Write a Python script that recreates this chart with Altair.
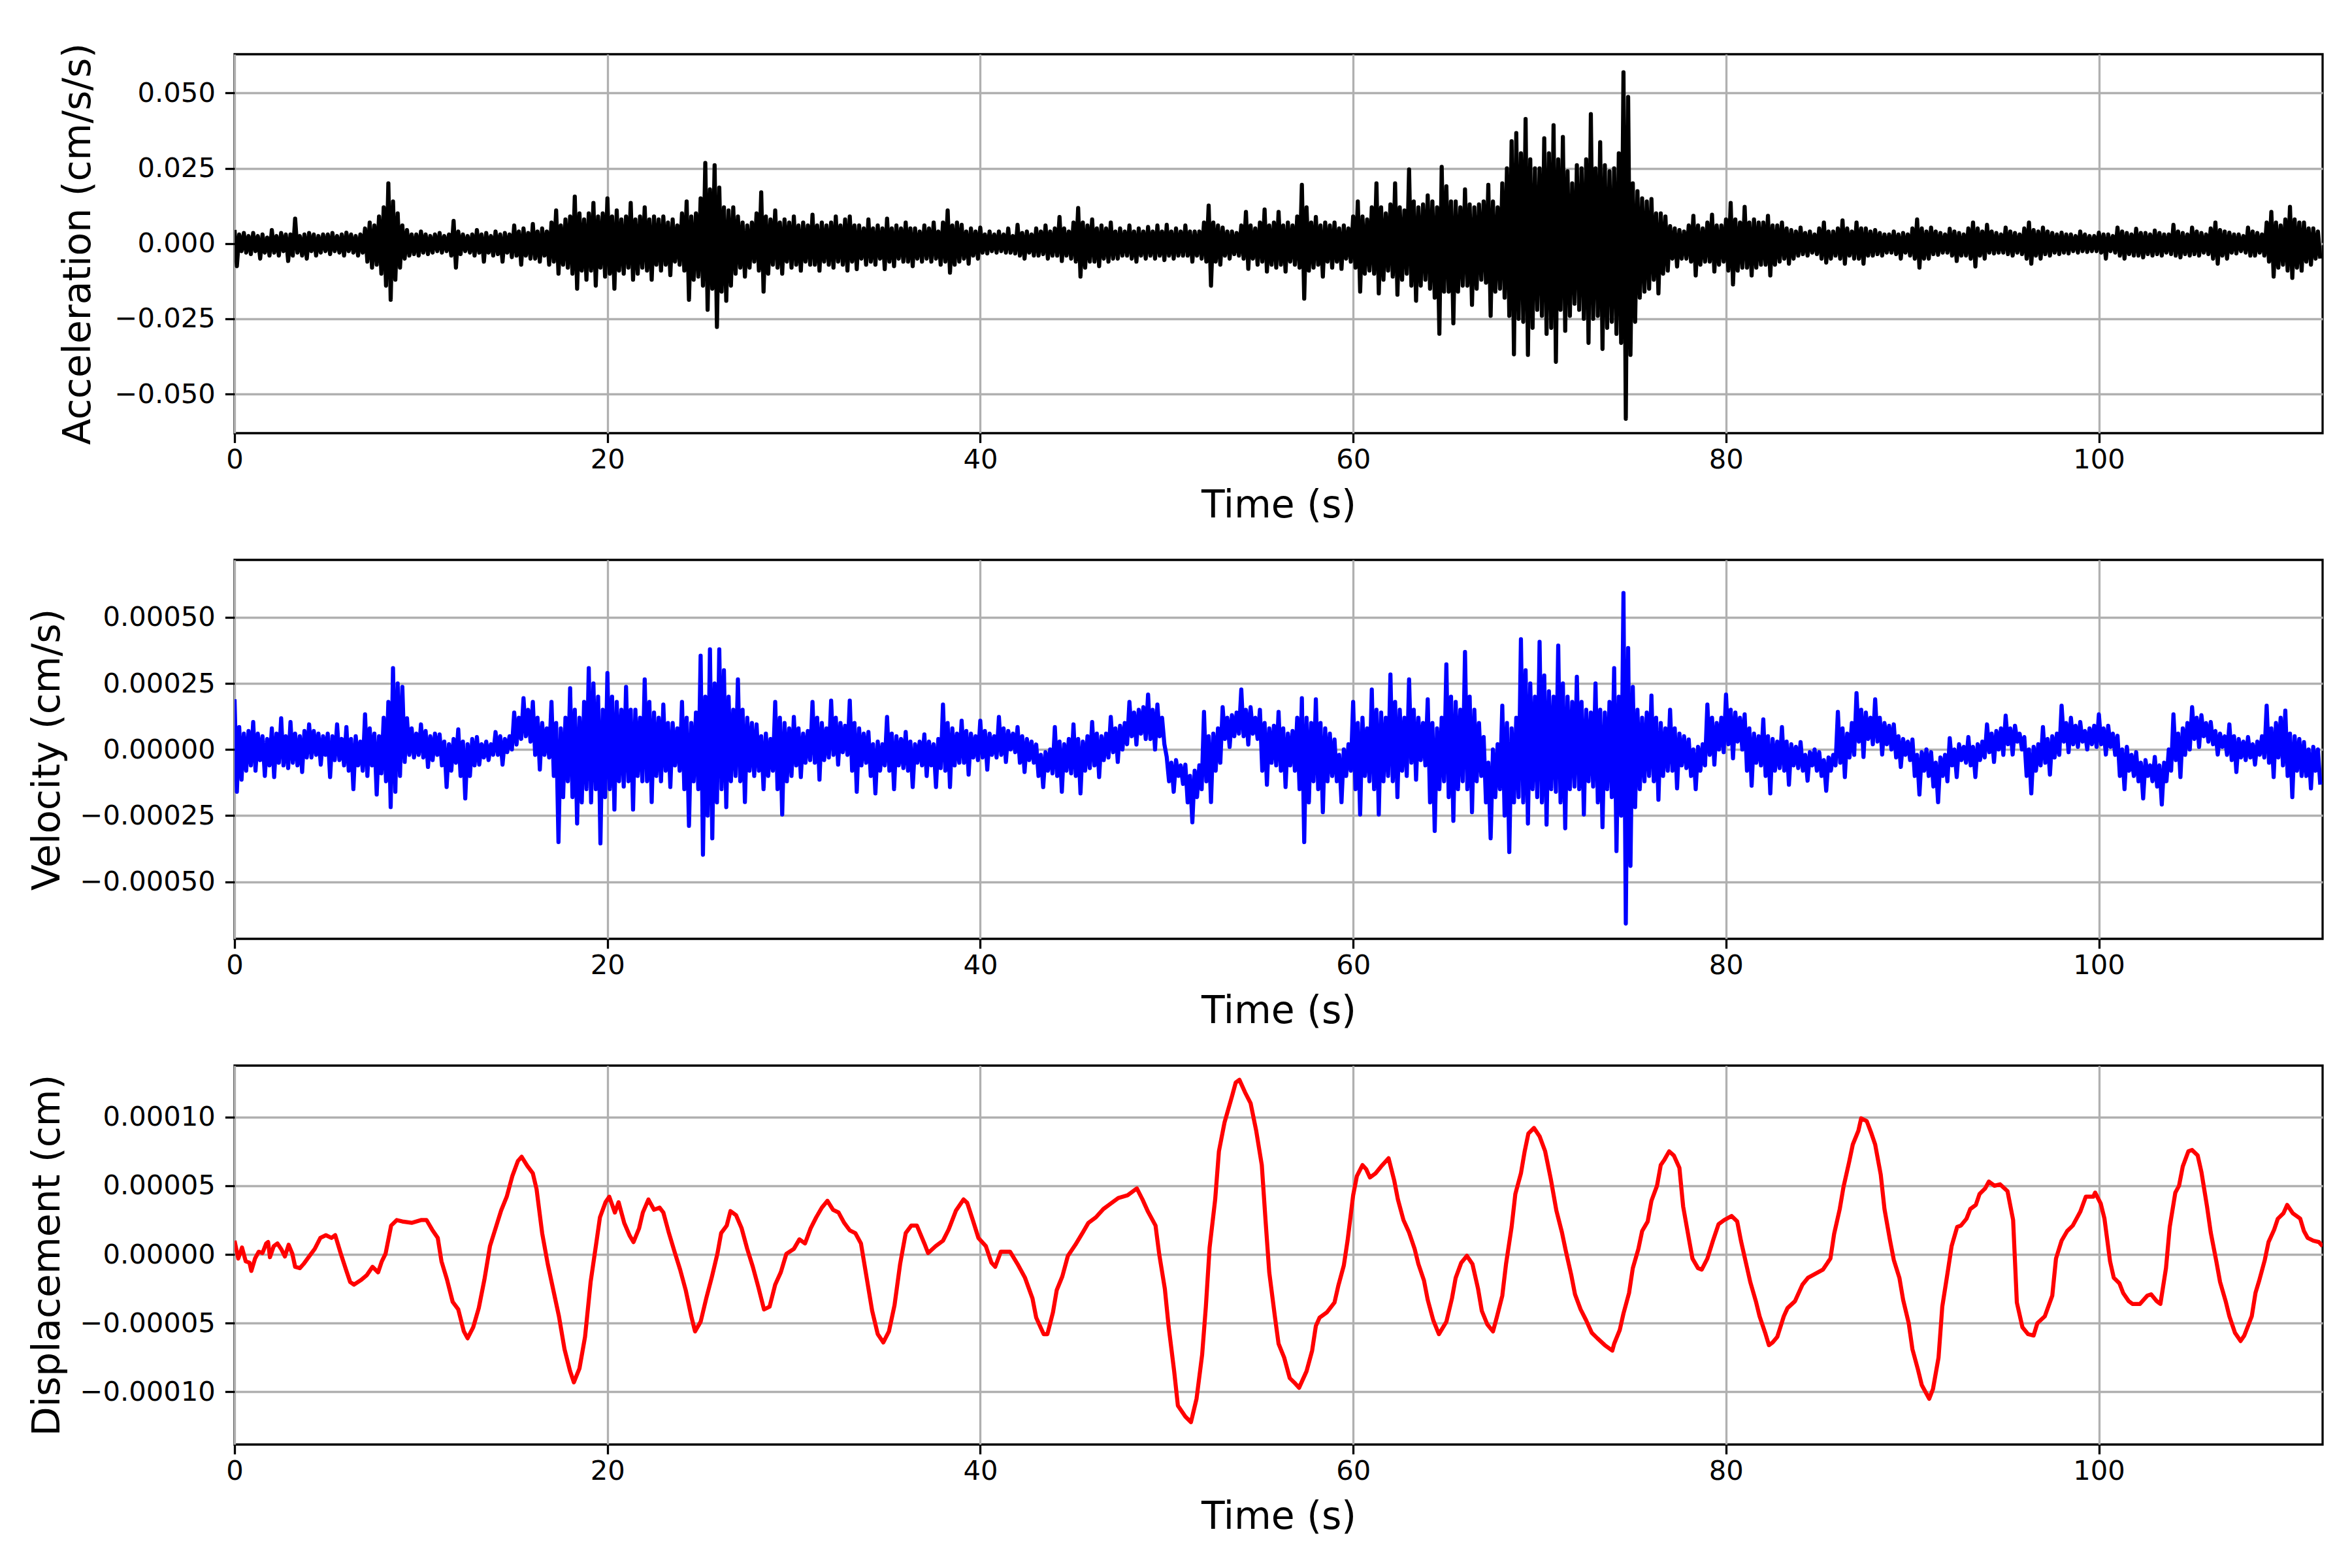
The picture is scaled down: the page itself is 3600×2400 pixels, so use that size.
import altair as alt
import pandas as pd

# ---------------- data ----------------
# Acceleration, units of 0.001 cm/s/s; one row per second, 8 samples per row (every 0.125 s)
ACC_ROWS = [
    [4.5, -7.5, 3, -2.5, 3.5, -3, 2.5, -3.5], [3.5, -2.5, 2.5, -5, 3, -3, 2, -4],
    [4.5, -3, 2.5, -4, 3.5, -2.5, 3, -5.8], [3, -4, 8.3, -3, 2.5, -4, 3, -5],
    [3.5, -2.5, 3, -4, 2.5, -3, 3, -2.5], [3, -3.5, 3.5, -2.5, 2.5, -3, 3, -4],
    [3.6, -2.5, 3, -3, 2.5, -4, 3, -3], [5, -6, 7, -8, 6, -7, 9, -10],
    [12, -14, 20, -18.7, 14, -12, 10, -8], [6, -5, 4.5, -4, 3, -3.5, 3, -4],
    [4, -3, 3, -3.5, 2.5, -3, 3, -2.5], [3.5, -3, 2.5, -2.5, 3, -4, 7.5, -8],
    [4, -3.5, 3, -2.5, 2.5, -3, 3, -4], [4.5, -3, 3, -6, 3.5, -3, 2.5, -4],
    [4, -3.5, 3, -6, 3.5, -3, 3, -4.5], [6, -4, 4, -7, 5, -4, 3.5, -5],
    [6.5, -5, 4, -6, 5, -4, 4, -7], [7, -6, 11, -10, 6, -7, 8, -8],
    [9, -10, 15.6, -15, 10, -9, 8, -12], [10, -9, 13.5, -14, 9, -8, 10, -11],
    [15, -10, 9, -15, 11, -9, 8, -10], [9, -8, 13.5, -12, 8, -10, 9, -8],
    [12, -9, 8, -12, 9, -7, 8, -9], [9, -7, 7, -10.5, 8, -6, 6, -7],
    [10, -9, 14, -18.7, 9, -12, 10, -11], [15, -14, 26.8, -22, 18, -15, 26, -27.7],
    [18.6, -16, 12, -19, 11, -14, 12, -10], [9, -8, 7, -11, 6, -8, 7, -6],
    [10, -9, 17, -16, 9, -10, 8, -7], [11, -8, 7, -10, 8, -6, 7, -8],
    [9, -7, 6, -9, 7, -6, 6, -7], [9.6, -7, 6, -9, 7, -6, 6, -7],
    [7, -8, 9, -6, 6, -7, 8, -9], [9, -6, 6, -8.5, 6, -5, 5, -7],
    [8, -6, 5, -7, 6, -5, 5, -8.5], [8.3, -6, 5, -7.5, 6, -5, 5, -6],
    [7, -6, 5, -7.5, 5, -5, 4, -6], [6, -5, 5, -6, 7, -5, 4, -7],
    [7, -6, 11, -9.7, 6, -7, 7, -6], [6.2, -5, 4, -6.7, 5, -4, 4, -5],
    [5.3, -3, 3, -3.3, 4, -2.5, 3, -3], [4, -2.5, 3, -3, 5, -3, 2.5, -3.3],
    [6.2, -4, 3.5, -5, 4, -3, 3, -4], [5, -4, 4, -3.5, 6, -5, 4, -4],
    [5, -4, 8.8, -5.8, 5, -4, 4, -5], [7, -6, 11.8, -11, 7, -8, 6, -6],
    [8, -6, 5, -7.5, 6, -5, 5, -6], [7, -5, 4, -5, 5, -4, 4, -4],
    [6, -5, 4, -6, 5, -4, 4, -5], [5.5, -4, 4, -5, 6, -4, 4, -5.5],
    [6.2, -4, 4, -5, 5, -4, 4, -4], [6, -4, 4, -6, 4, -4, 4, -5],
    [7, -6, 12.6, -14, 7, -6, 6, -7], [5.3, -4, 4, -5, 4, -3.5, 3.5, -4],
    [6, -5, 10.5, -8.4, 6, -5, 5, -7], [7, -6, 11.3, -9.3, 6, -7, 7, -8],
    [10.5, -7, 6, -9.3, 7, -6, 6, -7], [9, -8, 19.5, -18.3, 12, -9, 7, -8],
    [8.8, -7, 6, -11, 7, -6, 6, -8], [7, -6, 5, -8.4, 6, -5, 5, -6],
    [9, -8, 14, -16, 9, -10, 8, -9], [12, -10, 20, -16.6, 12, -12, 10, -9],
    [13, -11, 20, -17, 12, -12, 11, -10], [24.6, -14, 14, -19, 12, -14, 13, -12],
    [16, -15, 14, -18, 12, -30, 25.5, -16], [19, -16, 14, -26.5, 14, -16, 12, -14],
    [18, -14, 13, -20.4, 12, -15, 13, -12], [14, -13, 19.5, -24, 14, -16, 12, -15],
    [20, -18, 25, -24, 34, -36.8, 36.7, -25], [30, -26, 41.4, -37, 28, -28, 25, -22],
    [25, -24, 35, -30, 30, -28, 39.3, -39.3], [28, -22, 35.4, -29, 24, -24, 20, -20],
    [26, -22, 25, -25, 28, -33, 43, -25], [25, -24, 33.7, -35, 26, -28, 24, -26],
    [25, -30, 30, -33, 56.9, -58.2, 48.7, -37], [20, -26, 17.4, -18, 15, -16, 14, -15],
    [14.8, -12, 10, -16.6, 10, -10, 9, -9], [5.8, -5, 5, -7.6, 4.5, -5, 4, -5],
    [6, -6, 9.2, -10.6, 6, -7, 5, -6], [7, -6, 9.6, -9.3, 6, -7, 6, -6],
    [8, -9, 13.5, -13.6, 8, -9, 7, -8], [12.2, -8, 7, -10.6, 8, -8, 7, -7],
    [7, -7, 9.2, -10.6, 6, -7, 6, -6], [7, -5, 5, -6.7, 4.5, -5, 4, -4],
    [5.3, -3.5, 3.5, -4, 4, -3, 3, -3.5], [5, -5, 7, -6.3, 4, -5, 4, -4],
    [5, -5, 7.7, -6.7, 5, -4, 4, -5], [7, -5, 5, -6.7, 5, -4, 4, -4],
    [4.5, -3.5, 3.5, -4, 3, -3, 3, -3], [4, -3.5, 3, -5, 3.5, -3, 3, -4],
    [5, -5, 8, -8, 5, -5, 4, -5], [5.3, -3.5, 4, -3.7, 3.5, -3, 3, -3],
    [4.9, -4, 4, -5.8, 3.5, -4, 3, -4], [5, -5, 7, -7.6, 5, -4, 4, -5],
    [6.2, -3, 4, -3.3, 3.5, -3, 3, -3], [5.3, -3.5, 4, -4, 3.5, -3, 3, -3.5],
    [5, -5, 7, -6.7, 4.5, -4, 4, -5], [5.3, -3.5, 4, -4, 3.5, -3, 3, -3.5],
    [3.6, -3, 3, -3.3, 3, -2.5, 2.5, -3], [4, -2.5, 3, -2.8, 2.5, -2.5, 2.5, -2.5],
    [3.6, -3, 3, -5, 3, -2.5, 2.5, -3], [5.3, -4, 4, -5, 3.5, -3.5, 3, -4],
    [4.9, -4, 3.5, -4.6, 3.5, -3.5, 3, -4], [4.3, -3.5, 3.5, -4, 3, -3, 3, -3.5],
    [6.2, -4, 4, -4.6, 3.5, -3.5, 3, -4], [5.3, -3.5, 4, -4, 3.5, -3, 3, -3.5],
    [5, -5, 7, -6.7, 4.5, -4, 4, -5], [3.6, -3, 3, -3.3, 3, -2.5, 2.5, -3],
    [5.3, -4, 4, -4, 3.5, -3, 3, -4], [7, -6, 10.5, -11, 7, -8, 6, -7],
    [8, -9, 12.2, -11.4, 8, -8, 7, -9], [7, -6, 5, -7, 5, -5, 4, -5],
]

# Velocity, units of 1e-5 cm/s; one row per second, 8 samples per row (every 0.125 s)
VEL_ROWS = [
    [19, -16, 8.5, -11.4, 6, -8, 7, -6], [10.4, -8, 6, -4, 5, -10, 4, -6],
    [8, -10.4, 6, -5, 11.8, -6, 5, -7], [10.4, -5, 6, -6, 5, -8.5, 7, -3],
    [9.5, -3, 7, -2, 6, -5.7, 5, -2], [6, -10.4, 5, -4, 9.5, -4, 4, -6],
    [8.5, -8, 4, -15, 5, -6, 3, -8], [13.3, -10, 8, -6, 6, -17, 5, -9],
    [12, -12, 18, -21.8, 30.8, -16, 25, -10], [23.7, -4.7, 11.8, -2, 8, -3, 6, -2],
    [9.5, -3, 7, -6.6, 5, -4, 6, -2], [5.7, -6, 3, -14.2, 2, -8, 4, -5],
    [7.6, -10, 3, -18.5, 2, -10, 4, -6], [4.7, -5.7, 2, -3, 3, -4, 2, -2],
    [6.6, -2, 5, -5.7, 4, -1, 5, 0], [14, 1.9, 12, 4, 19.4, 5, 15, 3],
    [18, -2, 12, -7.6, 10, -2, 8, -3], [18, -10, 10, -35, 8, -18, 12, -12],
    [23.2, -18, 15, -28, 12, -20, 18, -15], [30.8, -20, 25, -15, 20, -35.5, 15, -18],
    [28.9, -15, 20, -22.7, 18, -12, 15, -14], [23.7, -12, 15, -22.7, 15, -10, 12, -12],
    [26.5, -12, 18, -19.9, 14, -10, 12, -12], [17, -8, 10, -14.2, 10, -6, 8, -8],
    [18, -15, 12, -28.9, 10, -12, 14, -15], [35.5, -39.8, 20, -25, 37.9, -33.6, 25, -20],
    [37.9, -15, 30, -21.8, 20, -12, 15, -10], [26.5, -12, 15, -19.9, 12, -8, 10, -10],
    [9.5, -8, 5, -15, 6, -10, 4, -8], [18, -15, 12, -24.6, 10, -12, 8, -10],
    [12.3, -6, 8, -10.4, 6, -5, 7, -4], [18, -5, 12, -11.4, 10, -4, 8, -3],
    [18.5, -2, 12, -5.7, 10, -1, 9, -2], [18.5, -8, 10, -16, 8, -6, 6, -5],
    [6.6, -10, 2, -16.6, 3, -8, 2, -6], [12.3, -8, 6, -15, 5, -6, 4, -7],
    [6.6, -8, 3, -14.2, 2, -5, 3, -6], [5.7, -10, 3, -6, 2, -14.2, 4, -7],
    [17, -8, 10, -14.2, 8, -6, 6, -5], [10.9, -5, 7, -9.5, 6, -3, 5, -4],
    [10.9, -3, 7, -7.6, 6, -2, 5, -3], [12.3, -2, 8, -4.7, 7, 0, 6, -1],
    [8.5, -5, 5, -8.5, 4, -4, 3, -5], [1.9, -10, -2, -14.2, -1, -8, 0, -9],
    [8.5, -10, 3, -16, 2, -8, 4, -9], [9.5, -10, 4, -16.6, 3, -8, 5, -7],
    [10.4, -6, 6, -10.4, 5, -4, 6, -3], [12.3, -1, 8, -4.7, 9, 0, 10, 2],
    [18, 5, 14, 1.9, 15, 6, 16, 4], [20.8, 4, 15, 0, 17, 5, 12, 2],
    [-2.8, -12, -5, -16, -4, -10, -6, -13], [-5.7, -20, -10, -27.5, -8, -18, -6, -15],
    [14.2, -12, 5, -19.9, 6, -8, 8, -5], [16, 4, 12, 1, 13, 5, 14, 6],
    [22.7, 5, 15, 1.9, 16, 6, 12, 4], [15, -8, 10, -13.3, 8, -5, 9, -6],
    [14.2, -8, 8, -14.2, 6, -6, 7, -8], [12, -15, 19.4, -35, 12, -20, 10, -12],
    [19, -15, 10, -23.7, 8, -12, 6, -10], [3.8, -12, -2, -19.9, 0, -10, 2, -8],
    [18, -15, 10, -24.6, 12, -10, 8, -12], [22.7, -15, 15, -24.6, 14, -12, 12, -10],
    [28.4, -12, 18, -18, 15, -8, 12, -10], [26.5, -5, 15, -11.4, 12, -4, 10, -6],
    [19, -20, 10, -30.8, 8, -15, 12, -12], [32.2, -18, 20, -27, 18, -15, 15, -12],
    [36.9, -15, 20, -23.7, 15, -12, 10, -10], [4.7, -20, -5, -33.6, 0, -18, 2, -15],
    [16.6, -25, 10, -38.8, 8, -20, 12, -18], [41.7, -20, 30, -28, 25, -15, 20, -18],
    [40.7, -20, 28, -28.4, 22, -15, 20, -16], [39.3, -20, 25, -29.8, 20, -15, 18, -14],
    [27.5, -15, 18, -24.6, 15, -12, 14, -14], [25, -20, 15, -29.4, 14, -15, 18, -18],
    [30.8, -38.4, 20, -25, 59.2, -65.8, 38.4, -44], [23.7, -21.8, 15, -15, 12, -12, 14, -10],
    [20.4, -12, 12, -19, 10, -10, 8, -8], [15, -8, 8, -14.7, 6, -6, 5, -7],
    [3.8, -10, 0, -15, 1, -8, 2, -6], [17, -2, 12, -5.7, 10, 0, 12, -1],
    [20.8, 2, 15, -3.3, 14, 3, 12, 0], [13.3, -8, 8, -13.7, 6, -5, 5, -6],
    [11.4, -10, 5, -16.6, 4, -8, 3, -7], [8.5, -8, 3, -13.3, 2, -6, 1, -7],
    [2.8, -8, -2, -11.8, -1, -6, 0, -8], [-1, -10, -4, -15.6, -3, -8, -2, -6],
    [14.2, -5, 8, -10.4, 6, -3, 10, -2], [21.3, 3, 15, -2.8, 14, 4, 12, 2],
    [19, 3, 12, -1.9, 10, 2, 9, 0], [9.5, -3, 5, -6.6, 4, -2, 3, -4],
    [3.8, -10, -2, -17, -1, -8, 0, -10], [-1, -14, -5, -19.9, -3, -10, -2, -12],
    [4.3, -6, 0, -10.4, 2, -4, 1, -5], [4.7, -6, 1, -10.4, 2, -4, 3, -3],
    [9.5, -1, 6, -4.7, 7, 0, 8, -2], [12.8, 2, 8, -1.9, 9, 3, 6, 0],
    [4.7, -10, 0, -16.6, 1, -8, 2, -6], [8.5, -5, 4, -9.5, 5, -3, 6, -2],
    [16.6, 3, 10, -1, 12, 2, 9, 1], [10.4, 3, 7, 0, 8, 2, 9, 1],
    [13.3, 2, 8, -1.9, 9, 1, 6, -2], [5.2, -10, 0, -15, 1, -8, -2, -10],
    [-1, -12, -5, -18.5, -4, -10, -6, -12], [-2.8, -14, -6, -20.8, -5, -12, 0, -8],
    [13.3, -4, 6, -10.4, 8, -2, 10, 0], [16, 4, 12, 1, 13, 5, 10, 3],
    [10.4, 2, 7, -1.9, 6, 1, 5, -2], [9.5, -4, 5, -8.5, 4, -3, 3, -4],
    [4.7, -3, 2, -5.7, 3, -2, 5, -3], [16.6, -5, 8, -10.4, 10, -3, 12, -6],
    [14.7, -10, 6, -18, 5, -8, 4, -10], [2.8, -10, 0, -14.7, 1, -8, 0, -13.3],
]

# Displacement: time (s) and value in units of 1e-5 cm
DISP_T = [
    0.0, 0.2, 0.4, 0.6, 0.8, 0.9, 1.1, 1.3, 1.5, 1.7, 1.8, 1.9, 2.1, 2.3, 2.5, 2.7, 2.9, 3.1, 3.25, 3.5,
    3.7, 4.0, 4.3, 4.6, 4.9, 5.2, 5.4, 5.7, 6.0, 6.2, 6.4, 6.8, 7.1, 7.4, 7.7, 7.9, 8.1, 8.4, 8.7, 9.0,
    9.5, 10.0, 10.3, 10.6, 10.9, 11.1, 11.4, 11.7, 12.0, 12.3, 12.5, 12.8, 13.1, 13.4, 13.7, 14.0, 14.3, 14.6, 14.9, 15.2,
    15.4, 15.7, 16.0, 16.2, 16.5, 16.8, 17.1, 17.4, 17.7, 18.0, 18.2, 18.5, 18.8, 19.1, 19.4, 19.6, 19.9, 20.1, 20.4, 20.6,
    20.9, 21.2, 21.4, 21.7, 21.9, 22.2, 22.5, 22.8, 23.0, 23.3, 23.6, 23.9, 24.2, 24.5, 24.7, 25.0, 25.3, 25.6, 25.9, 26.1,
    26.4, 26.6, 26.9, 27.2, 27.5, 27.8, 28.1, 28.4, 28.7, 29.0, 29.3, 29.6, 30.0, 30.3, 30.6, 30.9, 31.2, 31.5, 31.8, 32.1,
    32.4, 32.7, 33.0, 33.3, 33.6, 33.9, 34.2, 34.5, 34.8, 35.1, 35.4, 35.7, 36.0, 36.3, 36.6, 37.0, 37.2, 37.6, 38.0, 38.3,
    38.7, 39.1, 39.3, 39.6, 39.9, 40.3, 40.6, 40.8, 41.1, 41.4, 41.6, 42.0, 42.4, 42.8, 43.0, 43.4, 43.6, 43.9, 44.1, 44.4,
    44.7, 45.1, 45.5, 45.8, 46.2, 46.6, 46.9, 47.4, 47.9, 48.4, 48.7, 49.0, 49.4, 49.6, 49.9, 50.1, 50.4, 50.6, 51.0, 51.3,
    51.6, 51.9, 52.1, 52.3, 52.6, 52.8, 53.1, 53.5, 53.7, 53.9, 54.2, 54.5, 54.8, 55.1, 55.3, 55.5, 55.8, 56.0, 56.3, 56.6,
    56.9, 57.1, 57.5, 57.8, 58.0, 58.2, 58.6, 59.0, 59.2, 59.5, 59.7, 60.0, 60.2, 60.5, 60.7, 60.9, 61.2, 61.5, 61.9, 62.2,
    62.4, 62.7, 63.0, 63.3, 63.5, 63.8, 64.0, 64.3, 64.6, 65.0, 65.3, 65.5, 65.8, 66.1, 66.4, 66.7, 66.9, 67.2, 67.5, 67.7,
    68.0, 68.2, 68.5, 68.7, 69.0, 69.2, 69.4, 69.7, 70.0, 70.3, 70.6, 70.9, 71.2, 71.4, 71.7, 71.9, 72.2, 72.5, 72.8, 73.1,
    73.5, 73.9, 74.0, 74.3, 74.5, 74.8, 75.0, 75.3, 75.5, 75.8, 76.0, 76.3, 76.5, 76.7, 76.95, 77.2, 77.5, 77.7, 78.0, 78.2,
    78.5, 78.7, 79.0, 79.3, 79.6, 79.9, 80.3, 80.6, 80.8, 81.1, 81.3, 81.6, 81.8, 82.1, 82.3, 82.5, 82.75, 83.1, 83.3, 83.7,
    84.1, 84.4, 84.8, 85.2, 85.6, 85.8, 86.1, 86.3, 86.6, 86.8, 87.1, 87.25, 87.55, 87.8, 88.0, 88.3, 88.5, 88.8, 89.0, 89.3,
    89.5, 89.8, 90.0, 90.3, 90.5, 90.9, 91.1, 91.4, 91.6, 91.9, 92.1, 92.4, 92.6, 92.9, 93.1, 93.4, 93.6, 93.9, 94.1, 94.4,
    94.7, 95.1, 95.4, 95.6, 95.9, 96.2, 96.5, 96.7, 97.1, 97.5, 97.7, 98.0, 98.3, 98.6, 99.0, 99.3, 99.7, 99.8, 100.1, 100.3,
    100.6, 100.8, 101.1, 101.3, 101.6, 101.8, 102.2, 102.6, 102.8, 103.1, 103.3, 103.6, 103.8, 104.1, 104.3, 104.5, 104.8, 105.0, 105.3, 105.5,
    105.8, 106.0, 106.3, 106.5, 106.8, 107.0, 107.3, 107.6, 107.8, 108.2, 108.4, 108.6, 108.9, 109.1, 109.4, 109.6, 109.9, 110.1, 110.4, 110.8,
    111.0, 111.2, 111.5, 111.8, 112.0,
]
DISP_U = [
    1.0, -0.3, 0.5, -0.5, -0.6, -1.2, -0.3, 0.2, 0.1, 0.8, 0.9, -0.2, 0.6, 0.8, 0.4, -0.15, 0.7, 0.05, -0.9, -1.0,
    -0.7, -0.15, 0.4, 1.2, 1.4, 1.2, 1.4, 0.05, -1.2, -2.0, -2.2, -1.85, -1.5, -0.9, -1.3, -0.5, 0.05, 2.1, 2.5, 2.4,
    2.3, 2.5, 2.5, 1.8, 1.2, -0.5, -1.85, -3.45, -4.0, -5.6, -6.1, -5.3, -3.9, -1.85, 0.6, 1.9, 3.2, 4.2, 5.7, 6.8,
    7.1, 6.45, 5.9, 4.75, 1.55, -0.7, -2.6, -4.5, -6.9, -8.5, -9.3, -8.3, -6.0, -2.0, 0.8, 2.7, 3.8, 4.2, 3.05, 3.8,
    2.3, 1.35, 0.9, 1.9, 3.05, 4.0, 3.25, 3.4, 3.05, 1.55, 0.2, -1.1, -2.6, -4.5, -5.6, -4.9, -3.2, -1.65, 0.05, 1.55,
    2.1, 3.15, 2.85, 1.9, 0.4, -0.9, -2.4, -4.0, -3.8, -2.2, -1.3, 0.05, 0.4, 1.1, 0.8, 1.9, 2.7, 3.4, 3.9, 3.25,
    3.05, 2.3, 1.75, 1.55, 0.8, -1.65, -4.1, -5.8, -6.4, -5.6, -3.7, -0.7, 1.55, 2.1, 2.1, 0.8, 0.1, 0.6, 1.0, 1.8,
    3.2, 4.0, 3.75, 2.5, 1.2, 0.6, -0.6, -0.9, 0.2, 0.2, 0.2, -0.7, -1.7, -3.2, -4.6, -5.8, -5.8, -4.2, -2.6, -1.6,
    -0.1, 0.7, 1.6, 2.3, 2.7, 3.3, 3.6, 4.1, 4.3, 4.8, 4.0, 3.1, 2.1, 0.0, -2.5, -5.2, -8.5, -11.0, -11.8, -12.2,
    -10.5, -7.3, -3.8, 0.5, 4.0, 7.5, 9.6, 11.5, 12.5, 12.7, 11.8, 11.0, 9.0, 6.5, 2.5, -1.3, -4.5, -6.5, -7.5, -9.0,
    -9.4, -9.7, -8.5, -7.0, -5.2, -4.6, -4.2, -3.5, -2.3, -0.8, 1.0, 4.3, 5.7, 6.5, 6.2, 5.6, 5.9, 6.4, 7.0, 5.4,
    4.0, 2.5, 1.6, 0.4, -0.7, -1.9, -3.3, -4.8, -5.8, -4.9, -3.2, -1.7, -0.6, -0.1, -0.7, -2.5, -4.1, -5.1, -5.6, -4.6,
    -3.0, -0.7, 2.0, 4.4, 5.9, 7.5, 8.8, 9.2, 8.6, 7.5, 5.5, 3.2, 1.6, 0.3, -1.5, -2.9, -4.0, -4.8, -5.7, -6.1,
    -6.6, -7.0, -6.5, -5.5, -4.3, -2.8, -1.0, 0.4, 1.7, 2.4, 3.9, 5.0, 6.5, 6.9, 7.5, 7.2, 6.3, 3.5, 1.2, -0.3,
    -1.0, -1.1, -0.3, 1.0, 2.2, 2.5, 2.8, 2.4, 1.0, -0.8, -2.0, -3.4, -4.5, -5.7, -6.6, -6.4, -6.0, -4.5, -3.9, -3.4,
    -2.2, -1.7, -1.4, -1.1, -0.3, 1.5, 3.3, 4.9, 6.7, 8.0, 9.0, 9.9, 9.7, 8.8, 8.0, 5.8, 3.3, 1.0, -0.4, -1.7,
    -3.3, -5.0, -6.9, -8.4, -9.5, -10.5, -9.8, -7.5, -3.8, -1.2, 0.6, 2.0, 2.1, 2.6, 3.3, 3.6, 4.4, 4.8, 5.3, 5.0,
    5.1, 4.6, 2.5, -3.5, -5.3, -5.8, -5.9, -5.0, -4.5, -3.0, -0.3, 1.0, 1.7, 2.1, 3.1, 4.2, 4.2, 4.5, 3.7, 2.6,
    -0.5, -1.7, -2.1, -2.8, -3.4, -3.6, -3.6, -3.0, -2.9, -3.4, -3.6, -1.0, 2.0, 4.5, 5.0, 6.4, 7.5, 7.6, 7.2, 6.0,
    3.5, 1.6, -0.5, -2.0, -3.4, -4.5, -5.7, -6.3, -5.9, -4.5, -2.8, -1.9, -0.4, 0.9, 1.8, 2.6, 3.0, 3.6, 3.0, 2.6,
    1.7, 1.2, 1.0, 0.9, 0.6,
]

X_TICKS = [0, 20, 40, 60, 80, 100]
ACC_TICKS = [-0.05, -0.025, 0.0, 0.025, 0.05]
VEL_TICKS = [-0.0005, -0.00025, 0.0, 0.00025, 0.0005]
DISP_TICKS = [-0.0001, -0.00005, 0.0, 0.00005, 0.0001]

# ---------------- tables ----------------
STEP = 0.125
acc_df = pd.DataFrame(
    [{"t": k + j * STEP, "v": val * 1e-3} for k, row in enumerate(ACC_ROWS) for j, val in enumerate(row)]
)
vel_df = pd.DataFrame(
    [{"t": k + j * STEP, "v": val * 1e-5} for k, row in enumerate(VEL_ROWS) for j, val in enumerate(row)]
)
disp_df = pd.DataFrame({"t": DISP_T, "v": [u * 1e-5 for u in DISP_U]})

W, H = 3196, 580
LW = 6.25


def panel(df, color, title, domain, ticks, fmt, title_x):
    return (
        alt.Chart(df)
        .mark_line(color=color, strokeWidth=LW, clip=True, strokeJoin="round")
        .encode(
            x=alt.X(
                "t:Q",
                scale=alt.Scale(domain=[0, 112], nice=False, zero=False),
                axis=alt.Axis(values=X_TICKS, format="d", title="Time (s)",
                              labelPadding=6, titlePadding=20, labelFlush=False),
            ),
            y=alt.Y(
                "v:Q",
                scale=alt.Scale(domain=domain, nice=False, zero=False),
                axis=alt.Axis(values=ticks, format=fmt, title=title,
                              labelPadding=15, labelFlush=False, labelLimit=0,
                              titleX=title_x, titleY=H / 2, titleAngle=270,
                              titleAlign="center", titleBaseline="bottom"),
            ),
        )
        .properties(width=W, height=H)
    )


c1 = panel(acc_df, "black", "Acceleration (cm/s/s)", [-0.0630, 0.0629], ACC_TICKS, ".3f", -210)
c2 = panel(vel_df, "#0000ff", "Velocity (cm/s)", [-0.000716, 0.000717], VEL_TICKS, ".5f", -257)
c3 = panel(disp_df, "#ff0000", "Displacement (cm)", [-0.0001383, 0.0001374], DISP_TICKS, ".5f", -257)

chart = (
    alt.vconcat(c1, c2, c3, spacing=194, bounds="flush")
    .properties(padding={"left": 33, "top": 55, "right": 30, "bottom": 40}, background="white")
    .configure_view(stroke="black", strokeWidth=3.3)
    .configure_axis(
        labelFont="DejaVu Sans",
        titleFont="DejaVu Sans",
        labelFontSize=41.7,
        titleFontSize=58.3,
        titleFontWeight="normal",
        labelColor="black",
        titleColor="black",
        grid=True,
        gridColor="#b0b0b0",
        gridWidth=3.3,
        domain=False,
        tickColor="black",
        tickWidth=3.3,
        tickSize=14.6,
    )
)

chart.save("out.html", embed_options={"renderer": "svg", "actions": False})
